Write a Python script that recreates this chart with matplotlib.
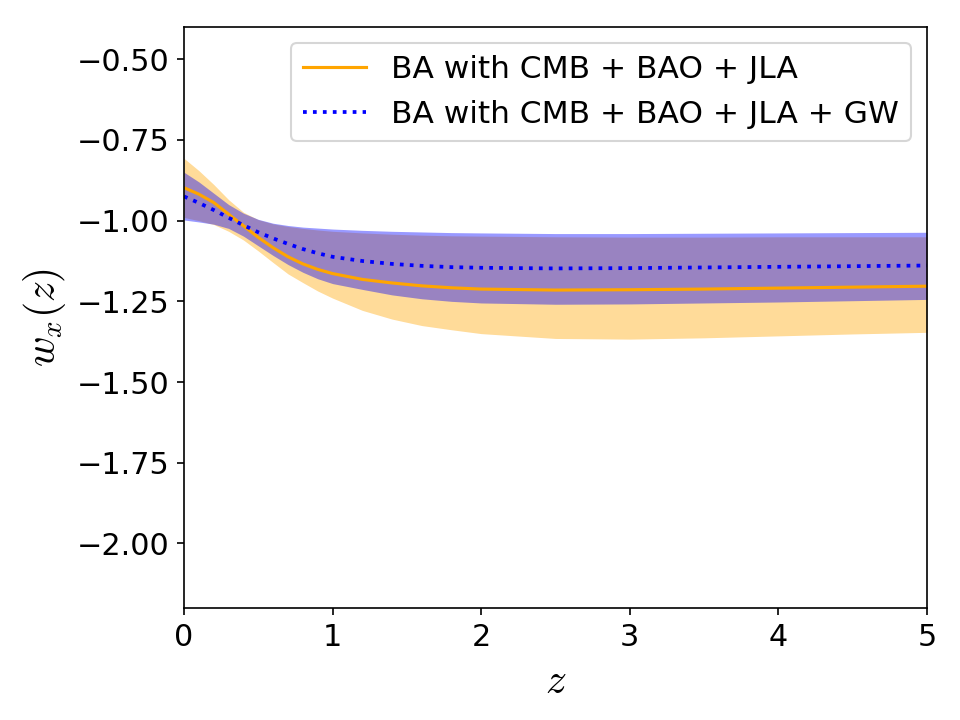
import matplotlib
matplotlib.use("Agg")
import matplotlib.pyplot as plt

z = [0.0, 0.1, 0.2, 0.3, 0.4, 0.5, 0.6, 0.7, 0.8, 0.9, 1.0, 1.2, 1.4, 1.6, 1.8, 2.0, 2.5, 3.0, 3.5, 4.0, 4.5, 5.0]

# BA with CMB + BAO + JLA
mean_jla = [-0.898, -0.918, -0.944, -0.980, -1.016, -1.052, -1.084, -1.112, -1.134, -1.151, -1.164, -1.182, -1.193, -1.202, -1.208, -1.212, -1.215, -1.214, -1.212, -1.209, -1.206, -1.203]
upper_jla = [-0.807, -0.845, -0.888, -0.935, -0.974, -0.997, -1.010, -1.018, -1.024, -1.029, -1.033, -1.038, -1.042, -1.045, -1.047, -1.048, -1.050, -1.051, -1.051, -1.050, -1.050, -1.050]
lower_jla = [-0.990, -1.000, -1.012, -1.033, -1.060, -1.094, -1.130, -1.165, -1.192, -1.218, -1.240, -1.278, -1.305, -1.325, -1.338, -1.350, -1.365, -1.367, -1.363, -1.357, -1.351, -1.346]

# BA with CMB + BAO + JLA + GW
mean_gw = [-0.925, -0.945, -0.967, -0.991, -1.014, -1.036, -1.055, -1.072, -1.088, -1.101, -1.112, -1.125, -1.134, -1.140, -1.144, -1.146, -1.148, -1.147, -1.145, -1.143, -1.141, -1.139]
upper_gw = [-0.850, -0.880, -0.915, -0.950, -0.977, -0.996, -1.008, -1.015, -1.020, -1.023, -1.026, -1.030, -1.033, -1.035, -1.037, -1.038, -1.040, -1.040, -1.039, -1.038, -1.037, -1.036]
lower_gw = [-0.998, -1.004, -1.011, -1.024, -1.048, -1.078, -1.108, -1.136, -1.160, -1.180, -1.195, -1.213, -1.230, -1.242, -1.250, -1.255, -1.259, -1.258, -1.255, -1.252, -1.248, -1.244]

yticks = [-0.50, -0.75, -1.00, -1.25, -1.50, -1.75, -2.00]
xticks = [0, 1, 2, 3, 4, 5]

plt.rcParams['mathtext.fontset'] = 'cm'
fig = plt.figure(figsize=(6.4, 4.8), dpi=150)
ax = fig.add_axes([0.1917, 0.1556, 0.9656 - 0.1917, 0.9625 - 0.1556])

ax.fill_between(z, lower_jla, upper_jla, color='orange', alpha=0.4, linewidth=0)
ax.fill_between(z, lower_gw, upper_gw, color='blue', alpha=0.4, linewidth=0)
ax.plot(z, mean_jla, color='orange', linestyle='-', linewidth=1.5, label='BA with CMB + BAO + JLA')
ax.plot(z, mean_gw, color='blue', linestyle=':', linewidth=1.8, label='BA with CMB + BAO + JLA + GW')

ax.set_xlim(0, 5)
ax.set_ylim(-2.2, -0.4)
ax.set_xticks(xticks)
ax.set_yticks(yticks)
ax.set_yticklabels([f"{v:.2f}".replace('-', '\u2212') for v in yticks])
ax.tick_params(labelsize=14.5)
ax.set_xlabel(r'$z$', fontsize=20)
ax.set_ylabel(r'$w_x(z)$', fontsize=20)
ax.legend(loc='upper right', fontsize=15)

fig.savefig('out.png', dpi=150)
